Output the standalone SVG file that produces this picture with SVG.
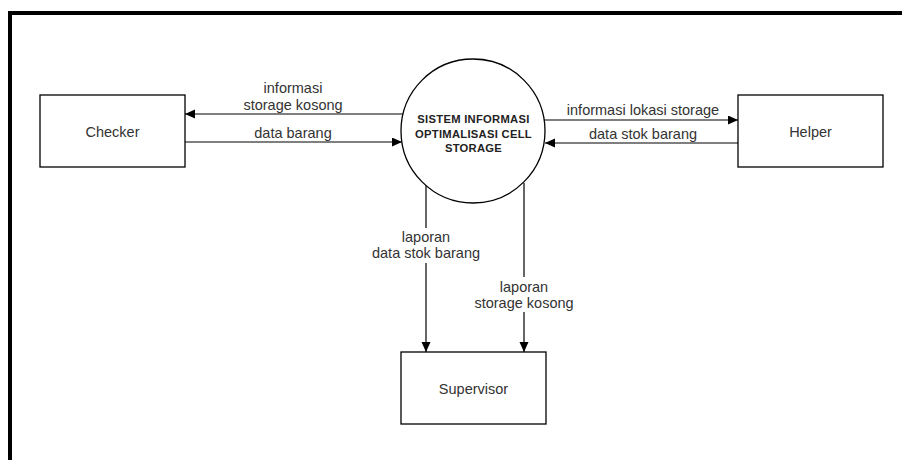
<svg xmlns="http://www.w3.org/2000/svg" width="902" height="460" viewBox="0 0 902 460">
  <style>
    .box { fill: #ffffff; stroke: #000000; stroke-width: 1.3; }
    .edge { fill: none; stroke: #000000; stroke-width: 1.2; }
    .lbl { font-family: "Liberation Sans", Arial, sans-serif; font-size: 14.5px; fill: #333333; text-anchor: middle; }
    .title { font-family: "Liberation Sans", Arial, sans-serif; font-size: 11.2px; font-weight: bold; fill: #222222; text-anchor: middle; letter-spacing: 0.3px; }
    .bg { fill: #ffffff; stroke: none; }
  </style>
  <defs>
    <marker id="arrow" markerUnits="userSpaceOnUse" markerWidth="11" markerHeight="10" refX="10" refY="4.5" orient="auto">
      <path d="M0,0 L10,4.5 L0,9 Z" fill="#000000"/>
    </marker>
  </defs>
  <rect x="0" y="0" width="902" height="460" fill="#ffffff"/>
  <path d="M10,460 V13 H902" fill="none" stroke="#000000" stroke-width="4"/>

  <g id="connectors">
    <line class="edge" x1="403" y1="114" x2="185" y2="114" marker-end="url(#arrow)"/>
    <line class="edge" x1="185" y1="142" x2="402" y2="142" marker-end="url(#arrow)"/>
    <line class="edge" x1="544" y1="120" x2="738" y2="120" marker-end="url(#arrow)"/>
    <line class="edge" x1="738" y1="143" x2="545" y2="143" marker-end="url(#arrow)"/>
    <line class="edge" x1="426" y1="185" x2="426" y2="352" marker-end="url(#arrow)"/>
    <line class="edge" x1="524" y1="183" x2="524" y2="352" marker-end="url(#arrow)"/>
    <text class="lbl" x="293" y="93">informasi</text>
    <text class="lbl" x="293" y="110">storage kosong</text>
    <text class="lbl" x="293" y="138">data barang</text>
    <text class="lbl" x="643" y="115">informasi lokasi storage</text>
    <text class="lbl" x="643" y="139">data stok barang</text>
    <rect class="bg" x="370" y="228" width="112" height="35"/>
    <text class="lbl" x="426" y="242">laporan</text>
    <text class="lbl" x="426" y="258">data stok barang</text>
    <rect class="bg" x="472" y="277" width="104" height="35"/>
    <text class="lbl" x="524" y="292">laporan</text>
    <text class="lbl" x="524" y="308">storage kosong</text>
  </g>

  <g id="checker">
    <rect class="box" x="40" y="95" width="145" height="72"/>
    <text class="lbl" x="112.5" y="137">Checker</text>
  </g>
  <g id="helper">
    <rect class="box" x="738" y="95" width="145" height="72"/>
    <text class="lbl" x="810.5" y="137">Helper</text>
  </g>
  <g id="supervisor">
    <rect class="box" x="401" y="352" width="145" height="72"/>
    <text class="lbl" x="473.5" y="394">Supervisor</text>
  </g>
  <g id="sistem">
    <circle class="box" cx="473" cy="131" r="72"/>
    <text class="title" x="473.5" y="123">SISTEM INFORMASI</text>
    <text class="title" x="473.5" y="138">OPTIMALISASI CELL</text>
    <text class="title" x="473.5" y="152">STORAGE</text>
  </g>
</svg>
